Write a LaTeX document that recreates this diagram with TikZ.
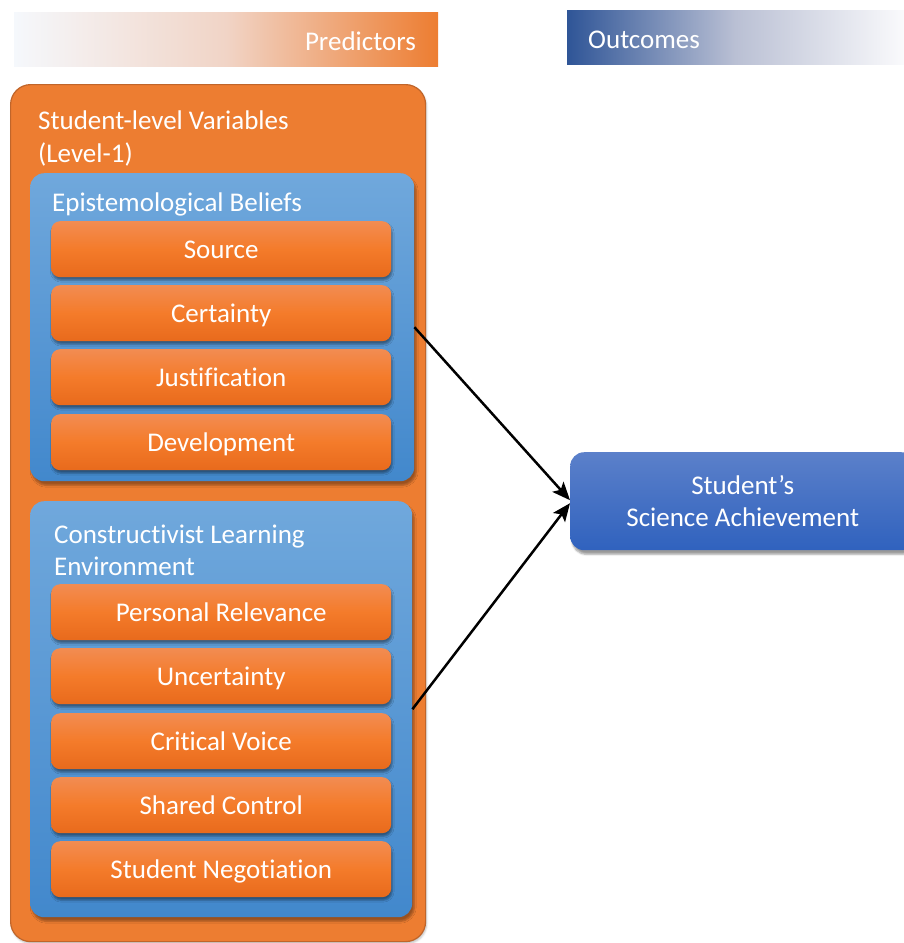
\documentclass[tikz,border=0pt]{standalone}
\usepackage{fontspec}
\setmainfont{Carlito}[Ligatures={NoCommon}]
\usetikzlibrary{arrows.meta,shadows.blur,positioning}

\definecolor{orgmain}{HTML}{ED7D31}
\definecolor{orgedge}{HTML}{C0652A}
\definecolor{orgtop}{HTML}{F28C52}
\definecolor{orgmid}{HTML}{F47B2A}
\definecolor{orgbot}{HTML}{E86A1C}
\definecolor{blutop}{HTML}{70A8DC}
\definecolor{blubot}{HTML}{4288CC}
\definecolor{outtop}{HTML}{5B80CA}
\definecolor{outbot}{HTML}{3062BE}
\definecolor{navy}{HTML}{2F5597}
\definecolor{paleleft}{HTML}{F5F8FC}
\definecolor{paleright}{HTML}{FAFAFC}

\tikzset{
  txt/.style={font=\fontsize{27}{32}\selectfont, text=white},
  bar/.style={anchor=north west, minimum height=54pt, inner sep=0pt, draw=none},
  outerbox/.style={anchor=north west, inner sep=0pt, rounded corners=20pt,
    fill=orgmain, draw=orgedge, line width=1.2pt,
    blur shadow={shadow xshift=1pt, shadow yshift=-2pt, shadow opacity=25, shadow blur steps=4}},
  groupbox/.style={anchor=north west, inner sep=0pt, rounded corners=14pt,
    top color=blutop, bottom color=blubot, draw=none,
    blur shadow={shadow xshift=2pt, shadow yshift=-4pt, shadow opacity=35, shadow blur steps=5}},
  itembox/.style={anchor=north west, inner sep=0pt, rounded corners=9pt,
    minimum width=340pt, minimum height=56pt, text height=22pt, text depth=4pt,
    top color=orgtop, bottom color=orgbot, middle color=orgmid, draw=none,
    blur shadow={shadow xshift=1pt, shadow yshift=-3pt, shadow opacity=40, shadow blur steps=4},
    txt},
  title/.style={anchor=base west, inner sep=0pt, txt},
  link/.style={draw=black, line width=2.5pt, -{Stealth[length=18pt,width=15pt,inset=4pt]}},
}

\begin{document}
\begin{tikzpicture}[x=1pt,y=-1pt]
\useasboundingbox (0,0) rectangle (904,943);

% header bars
\node[bar, minimum width=424pt, left color=paleleft, right color=orgmain,
      middle color={rgb,255:red,241;green,212;blue,198}] (pred) at (14,12) {};
\node[txt, anchor=base east, inner sep=0pt] (predtxt) at (416,50) {Predictors};

\node[bar, minimum width=337pt, left color=navy, right color=paleright,
      middle color={rgb,255:red,186;green,192;blue,212}] (outc) at (567,10) {};
\node[txt, anchor=base west, inner sep=0pt] (outctxt) at (588,48) {Outcomes};

% student-level container
\node[outerbox, minimum width=415pt, minimum height=857pt] (lvl) at (10,84) {};
\node[title] (lvltitle) at (38,129) {Student-level Variables};
\node[title] (lvltitle2) at (38,162) {(Level-1)};

% epistemological beliefs
\node[groupbox, minimum width=384pt, minimum height=308pt] (eb) at (30,173) {};
\node[title] (ebtitle) at (52,211) {Epistemological Beliefs};
\node[itembox] (src) at (51,221) {Source};
\node[itembox] (cert) at (51,285) {Certainty};
\node[itembox] (just) at (51,349) {Justification};
\node[itembox] (dev) at (51,414) {Development};

% constructivist learning environment
\node[groupbox, minimum width=382pt, minimum height=416pt] (cle) at (30,501) {};
\node[title] (cletitle) at (54,543) {Constructivist Learning};
\node[title] (cletitle2) at (54,575) {Environment};
\node[itembox] (pr) at (51,584) {Personal Relevance};
\node[itembox] (unc) at (51,648) {Uncertainty};
\node[itembox] (cv) at (51,713) {Critical Voice};
\node[itembox] (sc) at (51,777) {Shared Control};
\node[itembox] (sn) at (51,841) {Student Negotiation};

% outcome
\node[anchor=north west, inner sep=0pt, rounded corners=14pt,
      minimum width=345pt, minimum height=98pt,
      top color=outtop, bottom color=outbot, draw=none,
      blur shadow={shadow xshift=2pt, shadow yshift=-4pt, shadow opacity=40, shadow blur steps=5},
      txt, align=center] (ach) at (570,452) {Student’s\\Science Achievement};

% paths
\draw[link] (eb.east) -- ([yshift=1pt]ach.west);
\draw[link] (cle.east) -- ([yshift=-2pt]ach.west);
\end{tikzpicture}
\end{document}
